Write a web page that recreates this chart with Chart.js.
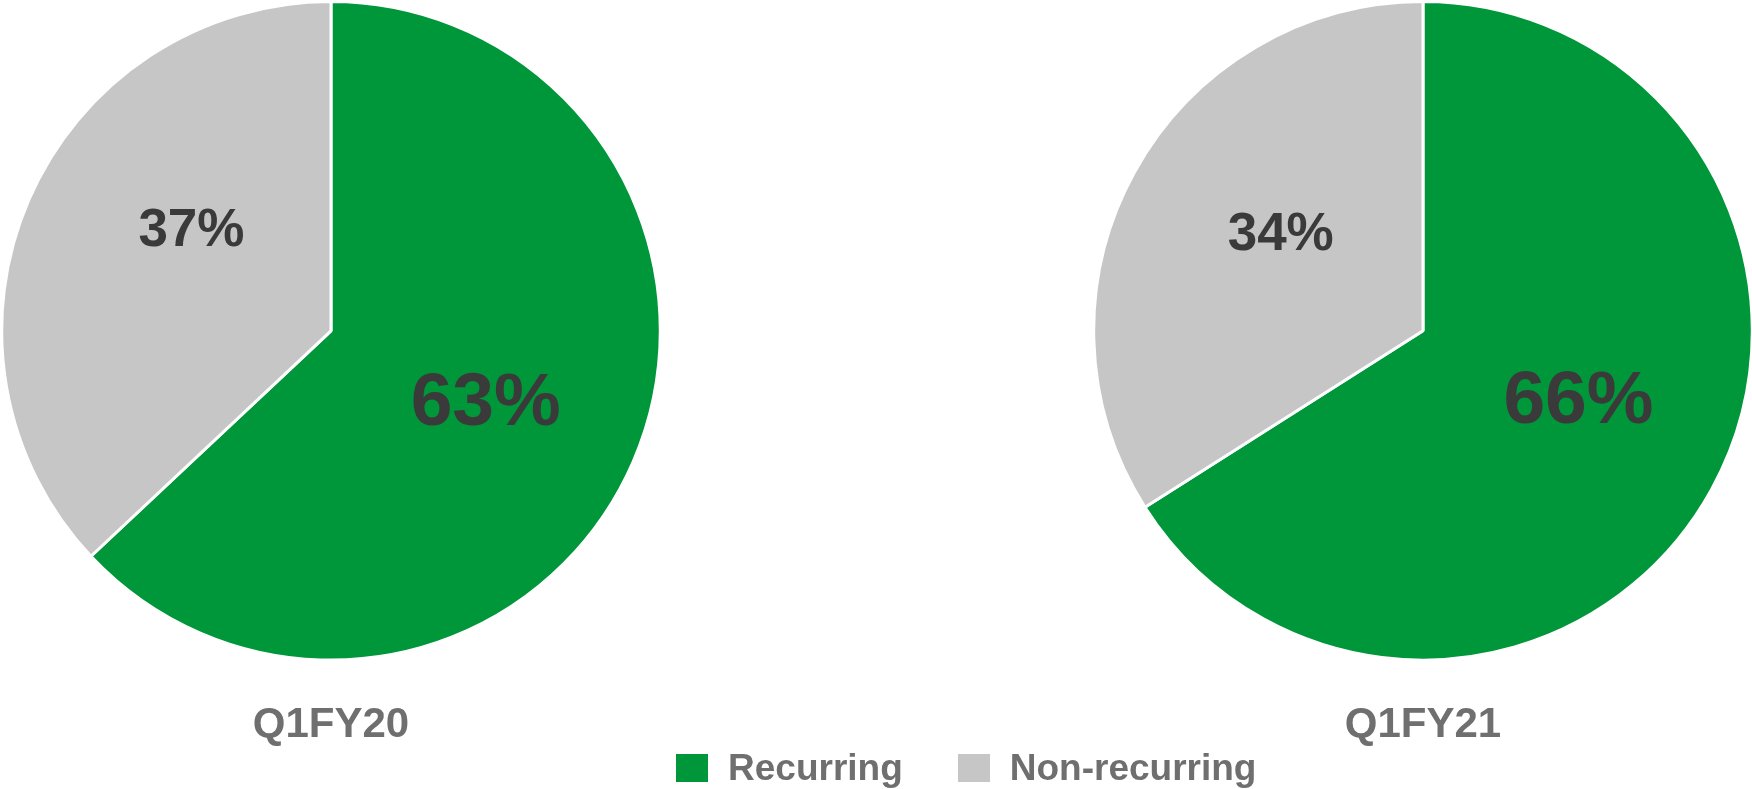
<!DOCTYPE html>
<html>
<head>
<meta charset="utf-8">
<script src="https://cdn.jsdelivr.net/npm/chart.js@4"></script>
<style>
  html, body { margin: 0; padding: 0; background: #fff; overflow: hidden; }
  body { width: 1752px; height: 789px; position: relative; font-family: "Liberation Sans", Arial, sans-serif; }
  .pie { position: absolute; top: 0; width: 662px; height: 760px; }
  #legend { position: absolute; left: 676px; top: 749px; display: flex; align-items: center;
    font: bold 37px "Liberation Sans", Arial, sans-serif; line-height: 37px; color: #6f6f6f; }
  #legend .item { display: flex; align-items: center; margin-right: 55px; }
  #legend .box { width: 32px; height: 28px; margin-right: 20px; }
</style>
</head>
<body>
<div class="pie" style="left:0px"><canvas id="left"></canvas></div>
<div class="pie" style="left:1092px"><canvas id="right"></canvas></div>
<div id="legend"></div>
<script>
const periods = ['Q1FY20', 'Q1FY21']
const segments = ['Recurring', 'Non-recurring']
const recurring = [63, 66]
const nonRecurring = [37, 34]
const colors = ['#00963a', '#c6c6c6']

// label size per slice, and a small angle nudge (deg) so labels sit like the original
const labelSize = [75, 53]
const labelNudge = [[2, 12], [-4, 5]]

const sliceLabels = {
  id: 'sliceLabels',
  afterDatasetsDraw(chart, args, opts) {
    const ctx = chart.ctx
    const meta = chart.getDatasetMeta(0)
    const values = chart.data.datasets[0].data
    meta.data.forEach((arc, i) => {
      const {x, y, startAngle, endAngle, outerRadius} = arc.getProps(['x', 'y', 'startAngle', 'endAngle', 'outerRadius'], true)
      const mid = (startAngle + endAngle) / 2 + opts.nudge[i] * Math.PI / 180
      const r = outerRadius * 0.52
      ctx.save()
      ctx.font = 'bold ' + labelSize[i] + 'px "Liberation Sans", Arial, sans-serif'
      ctx.fillStyle = '#3a3a3a'
      ctx.textAlign = 'center'
      ctx.textBaseline = 'middle'
      ctx.fillText(values[i] + '%', x + Math.cos(mid) * r, y + Math.sin(mid) * r)
      ctx.restore()
    })
  }
}

const makePie = (id, idx) => new Chart(document.getElementById(id), {
  type: 'pie',
  data: {
    labels: segments,
    datasets: [{
      data: [recurring[idx], nonRecurring[idx]],
      backgroundColor: colors,
      borderColor: '#ffffff',
      borderWidth: 3
    }]
  },
  options: {
    responsive: true,
    maintainAspectRatio: false,
    animation: false,
    layout: { padding: 0 },
    plugins: {
      legend: { display: false },
      tooltip: { enabled: false },
      title: {
        display: true,
        position: 'bottom',
        text: periods[idx],
        color: '#6f6f6f',
        font: { family: '"Liberation Sans", Arial, sans-serif', size: 42, weight: 'bold', lineHeight: 1.2 },
        padding: { top: 39, bottom: 9 }
      },
      sliceLabels: { nudge: labelNudge[idx] }
    }
  },
  plugins: [sliceLabels]
})

makePie('left', 0)
makePie('right', 1)

const legend = document.getElementById('legend')
segments.forEach((s, i) => {
  const item = document.createElement('div')
  item.className = 'item'
  item.innerHTML = '<span class="box" style="background:' + colors[i] + '"></span><span>' + s + '</span>'
  legend.appendChild(item)
})
</script>
</body>
</html>
